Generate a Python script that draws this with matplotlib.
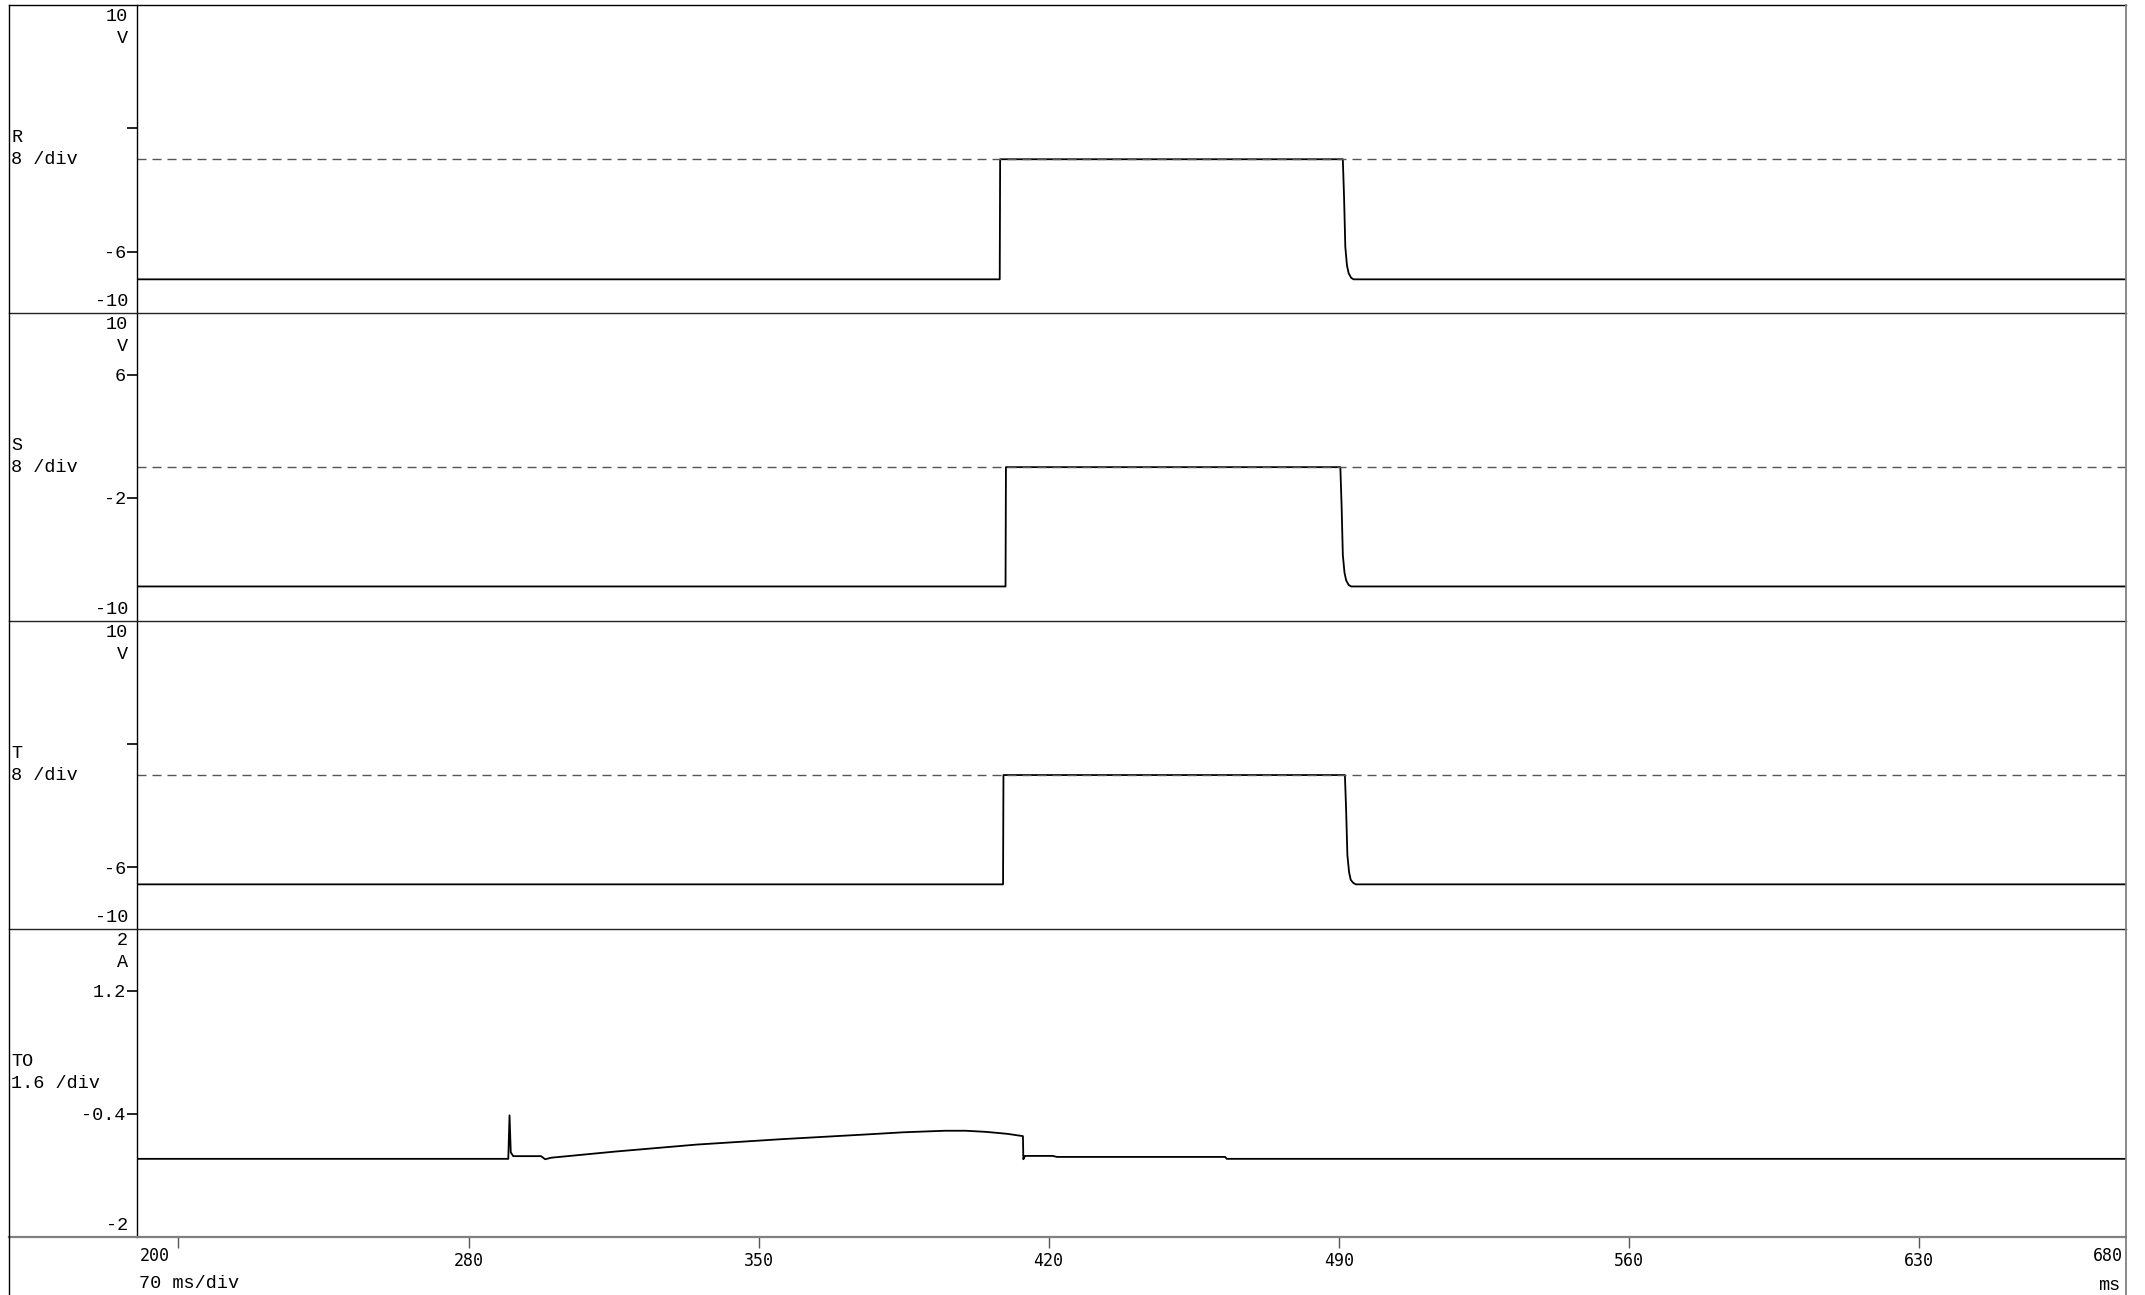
import matplotlib
matplotlib.use("Agg")
import matplotlib.pyplot as plt
from matplotlib.lines import Line2D

W, H = 2145, 1295

# time axis (ms)
x_min, x_max = 200, 680
x_ticks = [210, 280, 350, 420, 490, 560, 630]
x_tick_labels = ["", "280", "350", "420", "490", "560", "630"]

# channel R (V)
r_t = [200, 408.2, 408.3, 491.0, 491.3, 491.6, 492.0, 492.4, 493.0, 493.6, 680]
r_v = [-7.8, -7.8, 0.0, 0.0, -2.5, -5.7, -6.9, -7.4, -7.7, -7.8, -7.8]

# channel S (V)
s_t = [200, 409.6, 409.7, 490.4, 490.7, 491.0, 491.4, 491.8, 492.4, 493.0, 680]
s_v = [-7.75, -7.75, 0.0, 0.0, -2.5, -5.7, -6.85, -7.35, -7.65, -7.75, -7.75]

# channel T (V)
t_t = [200, 409.0, 409.1, 491.5, 491.8, 492.1, 492.5, 492.9, 493.5, 494.1, 680]
t_v = [-7.1, -7.1, 0.0, 0.0, -2.3, -5.2, -6.3, -6.8, -7.0, -7.1, -7.1]

# channel TO (A)
to_t = [200, 289.6, 289.9, 290.2, 290.8, 297.5, 298.5, 300.0, 315.5, 335.0,
        355.4, 375.4, 385.0, 395.0, 400.0, 405.0, 410.0, 413.8, 413.9, 414.3,
        421.0, 422.0, 462.6, 463.0, 680]
to_v = [-0.985, -0.985, -0.42, -0.9, -0.95, -0.95, -0.99, -0.97, -0.89, -0.80,
        -0.73, -0.67, -0.64, -0.62, -0.62, -0.635, -0.66, -0.69, -0.99, -0.947,
        -0.947, -0.96, -0.96, -0.985, -0.985]

channels = [
    ("R", "8 /div", "V", (-10, 10), [-6, 2], ["-6", ""], r_t, r_v, True),
    ("S", "8 /div", "V", (-10, 10), [6, -2], ["6", "-2"], s_t, s_v, True),
    ("T", "8 /div", "V", (-10, 10), [-6, 2], ["-6", ""], t_t, t_v, True),
    ("TO", "1.6 /div", "A", (-2, 2), [1.2, -0.4], ["1.2", "-0.4"], to_t, to_v, False),
]

MONO = "Liberation Mono"
FS = 13.3
TICKFONT = "DejaVu Sans Mono"
TFS = 12

fig = plt.figure(figsize=(W / 100, H / 100), dpi=100)

def fx(px):
    return px / W

def fy(py):
    return 1 - py / H

left_px, right_px = 137, 2126
frame_left = 9.3
panel_edges = [5.3, 313.2, 621.1, 929.0, 1237.0]

axes = []
for i, (name, div, unit, ylim, yt, ytl, tt, vv, dashed) in enumerate(channels):
    top, bot = panel_edges[i], panel_edges[i + 1]
    ax = fig.add_axes([fx(left_px), fy(bot), fx(right_px - left_px), (bot - top) / H])
    ax.plot(tt, vv, color="black", lw=1.3)
    if dashed:
        ax.axhline(0, color="#555555", lw=1.0, ls=(0, (6.5, 4.3)))
    ax.set_xlim(x_min, x_max)
    ax.set_ylim(*ylim)
    for s in ["top", "right", "bottom"]:
        ax.spines[s].set_visible(False)
    ax.spines["left"].set_linewidth(1.0)
    ax.set_yticks(yt)
    ax.set_yticklabels(ytl, fontfamily=MONO, fontsize=FS)
    ax.tick_params(axis="y", direction="out", length=7, width=1.2, pad=1)

    # range labels and unit
    ax.text(-0.0045, 1 - 3 / (bot - top), f"{ylim[1]:g}", transform=ax.transAxes,
            ha="right", va="top", fontfamily=MONO, fontsize=FS)
    ax.text(-0.0045, 1 - 25 / (bot - top), unit, transform=ax.transAxes,
            ha="right", va="top", fontfamily=MONO, fontsize=FS)
    ax.text(-0.0045, 3 / (bot - top), f"{ylim[0]:g}", transform=ax.transAxes,
            ha="right", va="bottom", fontfamily=MONO, fontsize=FS)

    # channel name and scale
    mid = (top + bot) / 2
    fig.text(fx(frame_left + 2), fy(mid - 22), name, ha="left", va="center",
             fontfamily=MONO, fontsize=FS)
    fig.text(fx(frame_left + 2), fy(mid), div, ha="left", va="center",
             fontfamily=MONO, fontsize=FS)

    if i < 3:
        ax.set_xticks([])
    axes.append(ax)

# bottom time axis
ax4 = axes[-1]
ax4.spines["bottom"].set_visible(False)
ax4.set_xticks(x_ticks)
ax4.set_xticklabels(x_tick_labels, fontfamily=TICKFONT, fontsize=TFS)
ax4.tick_params(axis="x", direction="out", length=8, width=1.0, color="#555555", pad=3)

fig.text(fx(left_px + 3), fy(1256), "200", ha="left", va="center",
         fontfamily=TICKFONT, fontsize=TFS)
fig.text(fx(right_px - 3), fy(1256), "680", ha="right", va="center",
         fontfamily=TICKFONT, fontsize=TFS)
fig.text(fx(left_px + 2), fy(1284), "70 ms/div", ha="left", va="center",
         fontfamily=MONO, fontsize=FS)
fig.text(fx(right_px - 6), fy(1286), "ms", ha="right", va="center",
         fontfamily=MONO, fontsize=FS)

# frame lines
def hline(y, color="black", lw=1.0):
    fig.add_artist(Line2D([fx(frame_left), fx(right_px)], [fy(y), fy(y)],
                          transform=fig.transFigure, color=color, lw=lw))

def vline(x, y0, y1, color="black", lw=1.0):
    fig.add_artist(Line2D([fx(x), fx(x)], [fy(y0), fy(y1)],
                          transform=fig.transFigure, color=color, lw=lw))

hline(panel_edges[0])
for y in panel_edges[1:4]:
    hline(y, color="#222222")
hline(panel_edges[4], color="#808080", lw=1.6)
vline(frame_left, panel_edges[0], H)
vline(right_px, panel_edges[0], H, color="#808080", lw=1.3)

fig.savefig("out.png", dpi=100, facecolor="white")
